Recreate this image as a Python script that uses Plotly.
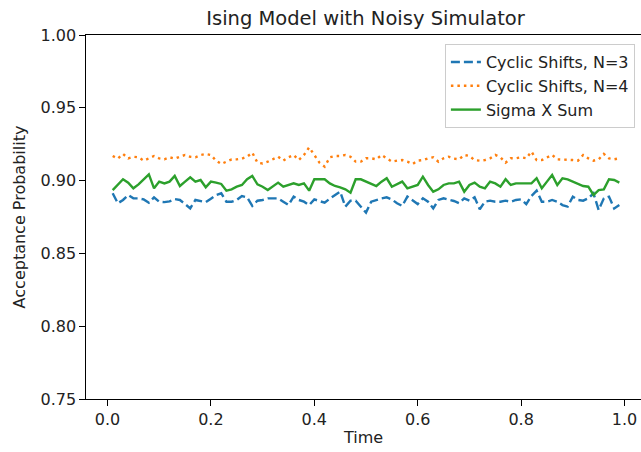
import plotly.graph_objects as go

title = "Ising Model with Noisy Simulator"
x_label = "Time"
y_label = "Acceptance Probability"
names = ["Cyclic Shifts, N=3", "Cyclic Shifts, N=4", "Sigma X Sum"]

times = [0.01, 0.02, 0.03, 0.04, 0.05, 0.06, 0.07, 0.08, 0.09, 0.10,
         0.11, 0.12, 0.13, 0.14, 0.15, 0.16, 0.17, 0.18, 0.19, 0.20,
         0.21, 0.22, 0.23, 0.24, 0.25, 0.26, 0.27, 0.28, 0.29, 0.30,
         0.31, 0.32, 0.33, 0.34, 0.35, 0.36, 0.37, 0.38, 0.39, 0.40,
         0.41, 0.42, 0.43, 0.44, 0.45, 0.46, 0.47, 0.48, 0.49, 0.50,
         0.51, 0.52, 0.53, 0.54, 0.55, 0.56, 0.57, 0.58, 0.59, 0.60,
         0.61, 0.62, 0.63, 0.64, 0.65, 0.66, 0.67, 0.68, 0.69, 0.70,
         0.71, 0.72, 0.73, 0.74, 0.75, 0.76, 0.77, 0.78, 0.79, 0.80,
         0.81, 0.82, 0.83, 0.84, 0.85, 0.86, 0.87, 0.88, 0.89, 0.90,
         0.91, 0.92, 0.93, 0.94, 0.95, 0.96, 0.97, 0.98, 0.99]

cyclic_n3 = [0.8913, 0.8844, 0.8867, 0.8901, 0.8878, 0.8878, 0.8871, 0.8848, 0.8885, 0.8855,
             0.8852, 0.8857, 0.8873, 0.8867, 0.8839, 0.8809, 0.8867, 0.8862, 0.8852, 0.8876,
             0.8901, 0.8913, 0.8855, 0.8855, 0.8867, 0.8894, 0.8885, 0.8826, 0.8862, 0.8867,
             0.8878, 0.8878, 0.8878, 0.8855, 0.8832, 0.8890, 0.8867, 0.8855, 0.8832, 0.8871,
             0.8862, 0.8848, 0.8876, 0.8901, 0.8924, 0.8821, 0.8862, 0.8862, 0.8821, 0.8780,
             0.8855, 0.8867, 0.8878, 0.8885, 0.8871, 0.8844, 0.8826, 0.8890, 0.8867, 0.8839,
             0.8878, 0.8855, 0.8809, 0.8867, 0.8878, 0.8871, 0.8860, 0.8844, 0.8878, 0.8862,
             0.8885, 0.8803, 0.8855, 0.8862, 0.8855, 0.8855, 0.8862, 0.8855, 0.8867, 0.8871,
             0.8839, 0.8894, 0.8931, 0.8855, 0.8855, 0.8867, 0.8855, 0.8832, 0.8821, 0.8890,
             0.8867, 0.8862, 0.8878, 0.8913, 0.8798, 0.8878, 0.8890, 0.8809, 0.8832]

cyclic_n4 = [0.9169, 0.9151, 0.9183, 0.9153, 0.9164, 0.9160, 0.9137, 0.9153, 0.9169, 0.9153,
             0.9146, 0.9160, 0.9151, 0.9164, 0.9176, 0.9164, 0.9160, 0.9176, 0.9183, 0.9176,
             0.9137, 0.9114, 0.9130, 0.9146, 0.9146, 0.9151, 0.9164, 0.9192, 0.9123, 0.9118,
             0.9130, 0.9146, 0.9164, 0.9137, 0.9160, 0.9176, 0.9141, 0.9176, 0.9228, 0.9176,
             0.9123, 0.9096, 0.9160, 0.9169, 0.9169, 0.9176, 0.9164, 0.9130, 0.9130, 0.9153,
             0.9153, 0.9146, 0.9176, 0.9153, 0.9130, 0.9137, 0.9141, 0.9130, 0.9114, 0.9137,
             0.9141, 0.9153, 0.9160, 0.9130, 0.9153, 0.9164, 0.9151, 0.9146, 0.9176, 0.9169,
             0.9141, 0.9137, 0.9141, 0.9153, 0.9176, 0.9160, 0.9123, 0.9153, 0.9153, 0.9160,
             0.9153, 0.9199, 0.9141, 0.9141, 0.9160, 0.9176, 0.9146, 0.9146, 0.9146, 0.9141,
             0.9137, 0.9176, 0.9153, 0.9137, 0.9146, 0.9183, 0.9153, 0.9146, 0.9153]

sigma_x_sum = [0.8935, 0.8970, 0.9009, 0.8986, 0.8947, 0.8974, 0.9009, 0.9043, 0.8947, 0.8993,
               0.8981, 0.8993, 0.9032, 0.8963, 0.8993, 0.9023, 0.8993, 0.9004, 0.8954, 0.8993,
               0.8986, 0.8977, 0.8931, 0.8940, 0.8958, 0.8970, 0.9009, 0.9032, 0.8974, 0.8958,
               0.8935, 0.8958, 0.8986, 0.8958, 0.8970, 0.8981, 0.8970, 0.8981, 0.8931, 0.9009,
               0.9009, 0.9009, 0.8981, 0.8963, 0.8954, 0.8940, 0.8917, 0.9009, 0.9009, 0.8993,
               0.8977, 0.8963, 0.8993, 0.9016, 0.8958, 0.8977, 0.8993, 0.8947, 0.8958, 0.8970,
               0.9027, 0.8970, 0.8924, 0.8940, 0.8970, 0.8981, 0.8981, 0.8993, 0.8924, 0.8970,
               0.8986, 0.8958, 0.8947, 0.8993, 0.8981, 0.8958, 0.9009, 0.8970, 0.8981, 0.8981,
               0.8981, 0.8981, 0.9016, 0.8947, 0.8993, 0.9038, 0.8970, 0.9016, 0.9009, 0.8993,
               0.8981, 0.8963, 0.8958, 0.8901, 0.8935, 0.8940, 0.9009, 0.9004, 0.8986]

y_ticks = [0.75, 0.80, 0.85, 0.90, 0.95, 1.00]
x_ticks = [0.0, 0.2, 0.4, 0.6, 0.8, 1.0]

FONT = "DejaVu Sans"
fig = go.Figure()
fig.add_trace(go.Scatter(x=times, y=cyclic_n3, mode="lines", name=names[0],
                         line=dict(color="#1f77b4", width=2.4, dash="9px,4px")))
fig.add_trace(go.Scatter(x=times, y=cyclic_n4, mode="lines", name=names[1],
                         line=dict(color="#ff7f0e", width=2.4, dash="2.5px,4px")))
fig.add_trace(go.Scatter(x=times, y=sigma_x_sum, mode="lines", name=names[2],
                         line=dict(color="#2ca02c", width=2.4)))

axis_common = dict(showgrid=False, zeroline=False, showline=True, linecolor="#000",
                   linewidth=1.2, ticks="outside", ticklen=5.5, tickwidth=1.2,
                   tickcolor="#000", tickfont=dict(family=FONT, size=16, color="#222"))

fig.update_layout(
    width=641, height=452,
    margin=dict(l=86, r=0, t=35, b=53, autoexpand=False),
    paper_bgcolor="white", plot_bgcolor="white",
    font=dict(family=FONT, size=16, color="#222"),
    title=dict(text=title, x=0.5036, xref="paper", xanchor="center",
               y=1 - 18 / 452, yref="container", yanchor="middle",
               font=dict(family=FONT, size=19.5, color="#222")),
    xaxis=dict(range=[-0.0416, 1.0319], tickvals=x_ticks, ticktext=[f"{v:.1f}" for v in x_ticks],
               mirror=True, title=dict(text=x_label, standoff=4, font=dict(family=FONT, size=16)),
               **axis_common),
    yaxis=dict(range=[0.75, 1.0], tickvals=y_ticks, ticktext=[f"{v:.2f}" for v in y_ticks],
               mirror=False, title=dict(text=y_label, standoff=10, font=dict(family=FONT, size=16)),
               **axis_common),
    legend=dict(x=0.989, y=0.975, xanchor="right", yanchor="top",
                bgcolor="rgba(255,255,255,0.8)", bordercolor="#cccccc", borderwidth=1,
                font=dict(family=FONT, size=16, color="#222"), tracegroupgap=0),
    showlegend=True,
)

# Remove the default page margin so the figure fills the window exactly.
fig.write_html("out.html",
               config={"displayModeBar": False},
               post_script="document.body.style.margin='0';document.body.style.overflow='hidden';")
